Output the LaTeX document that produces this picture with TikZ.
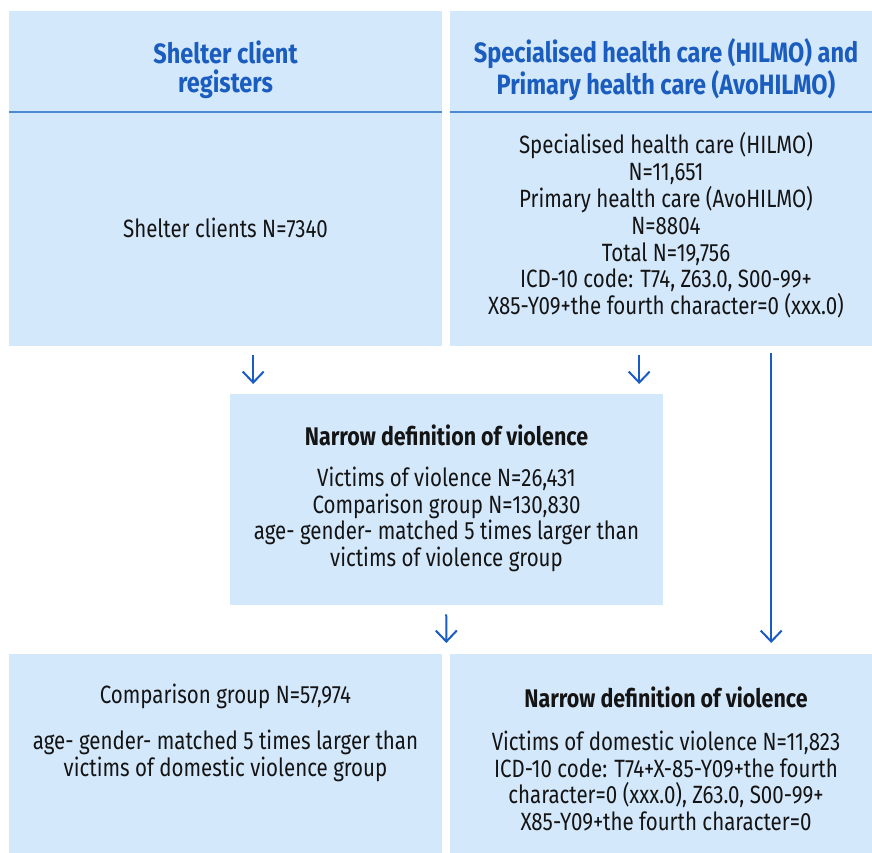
\documentclass[tikz,border=0pt]{standalone}
\usepackage{fontspec}
\setmainfont{Fira Sans}[FakeStretch=0.82]
\newfontfamily\headfont{Fira Sans}[FakeStretch=0.84]
\usetikzlibrary{arrows.meta}
\definecolor{boxfill}{RGB}{212,232,252}
\definecolor{headblue}{RGB}{27,93,191}
\definecolor{arrblue}{RGB}{26,92,196}
\definecolor{sepblue}{RGB}{77,138,211}
\definecolor{txtcol}{RGB}{20,20,20}
\newcommand{\ttl}[1]{{\headfont\bfseries\fontsize{25.5}{26.8}\selectfont #1}}
\begin{document}
\begin{tikzpicture}[x=1pt,y=-1pt,
  box/.style={fill=boxfill,draw=none,anchor=north west,inner sep=0pt},
  txt/.style={align=center,text=txtcol,font=\fontsize{25}{26.8}\selectfont,inner sep=0pt},
  head/.style={align=center,text=headblue,font=\headfont\fontsize{28}{29}\selectfont\bfseries,inner sep=0pt},
  sep/.style={draw=sepblue,line width=2pt},
  arr/.style={draw=arrblue,line width=2pt,-{Straight Barb[length=11pt,width=21pt]}}]
\useasboundingbox (0,0) rectangle (872,853);
% boxes
\node[box,minimum width=433pt,minimum height=335pt] (tl) at (9,11) {};
\node[box,minimum width=422pt,minimum height=335pt] (tr) at (450,11) {};
\node[box,minimum width=433pt,minimum height=211pt] (mid) at (230,394) {};
\node[box,minimum width=433pt,minimum height=199pt] (bl) at (9,654) {};
\node[box,minimum width=422pt,minimum height=199pt] (br) at (450,654) {};
% header separators
\draw[sep] ([yshift=-101pt]tl.north west) -- ([yshift=-101pt]tl.north east);
\draw[sep] ([yshift=-101pt]tr.north west) -- ([yshift=-101pt]tr.north east);
% texts
\node[head] (tlh) at (225.5,69.5) {Shelter client\\registers};
\node[head] (trh) at (666,69.5) {Specialised health care (HILMO) and\\Primary health care (AvoHILMO)};
\node[txt] (tlb) at (225.5,228) {Shelter clients N=7340};
\node[txt] (trb) at (666,225.5) {Specialised health care (HILMO)\\N=11,651\\Primary health care (AvoHILMO)\\N=8804\\Total N=19,756\\ICD-10 code: T74, Z63.0, S00-99+\\X85-Y09+the fourth character=0 (xxx.0)};
\node[txt] (midt) at (446.5,498.5) {\ttl{Narrow definition of violence}\\[14pt]Victims of violence N=26,431\\Comparison group N=130,830\\age- gender- matched 5 times larger than\\victims of violence group};
\node[txt] (blt) at (225.5,733) {Comparison group N=57,974\\[19pt]age- gender- matched 5 times larger than\\victims of domestic violence group};
\node[txt] (brt) at (666,759) {\ttl{Narrow definition of violence}\\[16pt]Victims of domestic violence N=11,823\\ICD-10 code: T74+X-85-Y09+the fourth\\character=0 (xxx.0), Z63.0, S00-99+\\X85-Y09+the fourth character=0};
% arrows
\draw[arr,shorten <=9pt,shorten >=10pt] ([xshift=27.5pt]tl.south) -- ([xshift=-193.5pt]mid.north);
\draw[arr,shorten <=9pt,shorten >=10pt] ([xshift=-22pt]tr.south) -- ([xshift=192.5pt]mid.north);
\draw[arr,shorten <=9pt,shorten >=11pt] ([xshift=-0.5pt]mid.south) -- ([xshift=4pt]bl.north east);
\draw[arr,shorten <=7pt,shorten >=11pt] ([xshift=110pt]tr.south) -- ([xshift=110pt]br.north);
\end{tikzpicture}
\end{document}
